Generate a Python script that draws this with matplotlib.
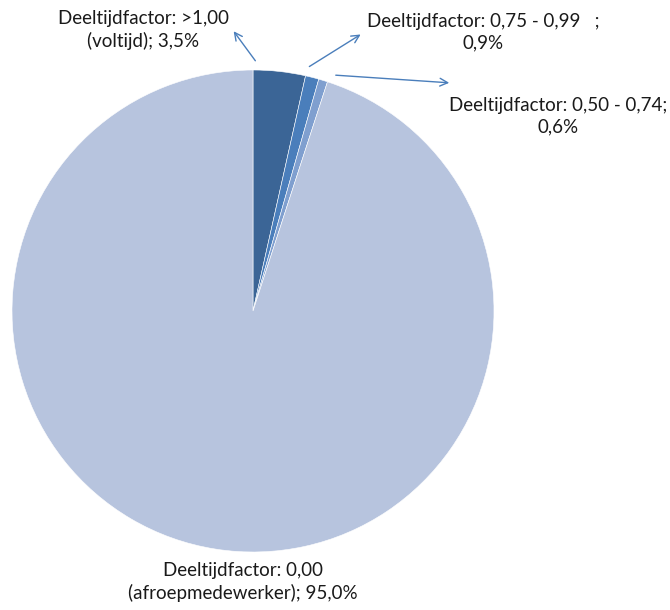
import matplotlib
matplotlib.use("Agg")
import matplotlib.pyplot as plt

# slices, clockwise from the top
labels = [
    "Deeltijdfactor: >1,00\n(voltijd); 3,5%",
    "Deeltijdfactor: 0,75 - 0,99   ;\n0,9%",
    "Deeltijdfactor: 0,50 - 0,74;\n0,6%",
    "Deeltijdfactor: 0,00\n(afroepmedewerker); 95,0%",
]
shares = [3.5, 0.9, 0.6, 95.0]
colors = ["#3B6596", "#4A7EBB", "#7F9FCF", "#B7C4DE"]

plt.rcParams["font.family"] = ["Lato", "DejaVu Sans"]

fig = plt.figure(figsize=(6.7, 6.1), dpi=100)
ax = fig.add_axes([0, 0, 1, 1])

cx, cy, r = 253, 610 - 311, 241
ax.pie(shares, colors=colors, startangle=90, counterclock=False,
       center=(cx, cy), radius=r, frame=True,
       wedgeprops=dict(edgecolor="white", linewidth=0.4))
ax.set_xlim(0, 670)
ax.set_ylim(0, 610)
ax.set_aspect("auto")
ax.axis("off")

arrow = dict(arrowstyle="->", color="#4A7EBB", lw=1.0, mutation_scale=14)
ts = dict(fontsize=13.5, color="#1a1a1a", ha="center", va="center", linespacing=1.3)

# label text positions and arrow endpoints in pixel coords (y from top)
ax.annotate("", xy=(232, 610 - 29), xytext=(257, 610 - 63), arrowprops=arrow)
ax.text(143, 610 - 30, labels[0], **ts)

ax.annotate("", xy=(363, 610 - 33), xytext=(307, 610 - 68), arrowprops=arrow)
ax.text(483, 610 - 32, labels[1], **ts)

ax.annotate("", xy=(452, 610 - 83), xytext=(333, 610 - 75), arrowprops=arrow)
ax.text(558, 610 - 116, labels[2], **ts)

ax.text(243, 610 - 582, labels[3], **ts)

fig.savefig("out.png", dpi=100)
